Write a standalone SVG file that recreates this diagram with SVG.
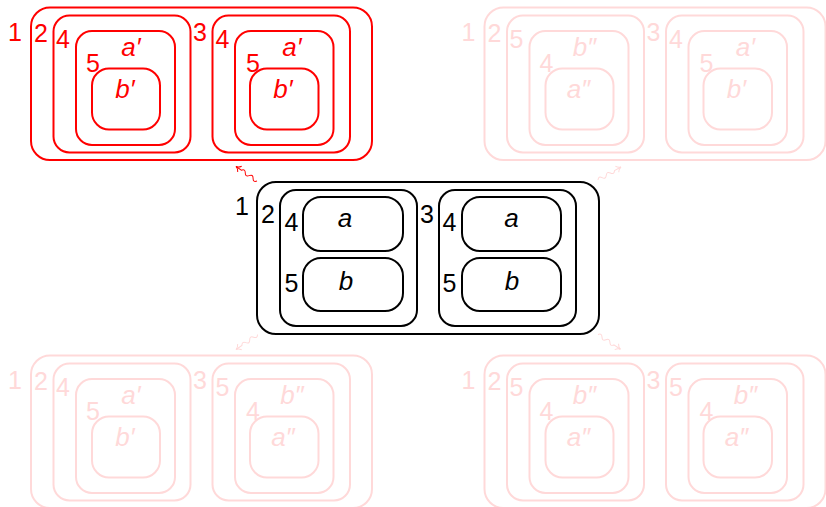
<svg xmlns="http://www.w3.org/2000/svg" width="826" height="507" viewBox="0 0 826 507">
<defs>
<style>
text{font-family:"Liberation Sans",Arial,sans-serif;font-size:25px}
.it{font-style:italic;text-anchor:middle;font-size:26px}
.r rect{fill:none;stroke:#ff0000;stroke-width:2}
.r text{fill:#ff0000}
.f rect{fill:none;stroke:#ffd9d9;stroke-width:2}
.f text{fill:#ffd9d9}
.k rect{fill:none;stroke:#000;stroke-width:2}
.k text{fill:#000}
.cr{fill:none;stroke:#ff0000;stroke-width:1}
.cf{fill:none;stroke:#ffd9d9;stroke-width:1}
</style>
<marker id="ar" viewBox="-6 -5 8 10" markerWidth="8" markerHeight="10" refX="0" refY="0" orient="auto" markerUnits="userSpaceOnUse">
<path d="M-4.5,-3.5 C-3,-1 -1.5,-0.3 0,0 C-1.5,0.3 -3,1 -4.5,3.5" fill="none" stroke="#ff0000" stroke-width="1"/>
</marker>
<marker id="af" viewBox="-6 -5 8 10" markerWidth="8" markerHeight="10" refX="0" refY="0" orient="auto" markerUnits="userSpaceOnUse">
<path d="M-4.5,-3.5 C-3,-1 -1.5,-0.3 0,0 C-1.5,0.3 -3,1 -4.5,3.5" fill="none" stroke="#ffd9d9" stroke-width="1"/>
</marker>
</defs>
<rect width="826" height="507" fill="#fff"/>

<!-- top-left (red) -->
<g id="tl" class="r">
<rect x="31" y="7.5" width="341" height="152.5" rx="19"/>
<text x="8" y="40.5">1</text>
<g id="tl-2">
<rect x="53.5" y="15.5" width="137" height="137" rx="16"/>
<text x="34" y="42">2</text>
<g id="tl-2-4">
<rect x="76" y="31" width="99" height="114" rx="16"/>
<text x="56" y="47.5">4</text>
<text class="it" x="131" y="56">a′</text>
<g id="tl-2-5">
<rect x="92" y="68.5" width="68" height="61" rx="17"/>
<text x="86" y="72">5</text>
<text class="it" x="125" y="98">b′</text>
</g>
</g>
</g>
<g id="tl-3">
<rect x="212.5" y="15.5" width="137.5" height="137" rx="16"/>
<text x="193" y="41">3</text>
<g id="tl-3-4">
<rect x="235" y="31" width="98.5" height="114" rx="16"/>
<text x="215.5" y="47.5">4</text>
<text class="it" x="292" y="56">a′</text>
<g id="tl-3-5">
<rect x="250" y="68.5" width="68.5" height="61" rx="17"/>
<text x="246" y="72">5</text>
<text class="it" x="283" y="98">b′</text>
</g>
</g>
</g>
</g>

<!-- top-right (faded) -->
<g id="tr" class="f" transform="translate(453.5,0)">
<rect x="31" y="7.5" width="341" height="152.5" rx="19"/>
<text x="8" y="40.5">1</text>
<g id="tr-2">
<rect x="53.5" y="15.5" width="137" height="137" rx="16"/>
<text x="34" y="42">2</text>
<g id="tr-2-5">
<rect x="76" y="31" width="99" height="114" rx="16"/>
<text x="56" y="47.5">5</text>
<text class="it" x="131" y="56">b″</text>
<g id="tr-2-4">
<rect x="92" y="68.5" width="68" height="61" rx="17"/>
<text x="86" y="72">4</text>
<text class="it" x="125" y="98">a″</text>
</g>
</g>
</g>
<g id="tr-3">
<rect x="212.5" y="15.5" width="137.5" height="137" rx="16"/>
<text x="193" y="41">3</text>
<g id="tr-3-4">
<rect x="235" y="31" width="98.5" height="114" rx="16"/>
<text x="215.5" y="47.5">4</text>
<text class="it" x="292" y="56">a′</text>
<g id="tr-3-5">
<rect x="250" y="68.5" width="68.5" height="61" rx="17"/>
<text x="246" y="72">5</text>
<text class="it" x="283" y="98">b′</text>
</g>
</g>
</g>
</g>

<!-- bottom-left (faded) -->
<g id="bl" class="f" transform="translate(0,348)">
<rect x="31" y="7.5" width="341" height="152.5" rx="19"/>
<text x="8" y="40.5">1</text>
<g id="bl-2">
<rect x="53.5" y="15.5" width="137" height="137" rx="16"/>
<text x="34" y="42">2</text>
<g id="bl-2-4">
<rect x="76" y="31" width="99" height="114" rx="16"/>
<text x="56" y="47.5">4</text>
<text class="it" x="131" y="56">a′</text>
<g id="bl-2-5">
<rect x="92" y="68.5" width="68" height="61" rx="17"/>
<text x="86" y="72">5</text>
<text class="it" x="125" y="98">b′</text>
</g>
</g>
</g>
<g id="bl-3">
<rect x="212.5" y="15.5" width="137.5" height="137" rx="16"/>
<text x="193" y="41">3</text>
<g id="bl-3-5">
<rect x="235" y="31" width="98.5" height="114" rx="16"/>
<text x="215.5" y="47.5">5</text>
<text class="it" x="292" y="56">b″</text>
<g id="bl-3-4">
<rect x="250" y="68.5" width="68.5" height="61" rx="17"/>
<text x="246" y="72">4</text>
<text class="it" x="283" y="98">a″</text>
</g>
</g>
</g>
</g>

<!-- bottom-right (faded) -->
<g id="br" class="f" transform="translate(453.5,348)">
<rect x="31" y="7.5" width="341" height="152.5" rx="19"/>
<text x="8" y="40.5">1</text>
<g id="br-2">
<rect x="53.5" y="15.5" width="137" height="137" rx="16"/>
<text x="34" y="42">2</text>
<g id="br-2-5">
<rect x="76" y="31" width="99" height="114" rx="16"/>
<text x="56" y="47.5">5</text>
<text class="it" x="131" y="56">b″</text>
<g id="br-2-4">
<rect x="92" y="68.5" width="68" height="61" rx="17"/>
<text x="86" y="72">4</text>
<text class="it" x="125" y="98">a″</text>
</g>
</g>
</g>
<g id="br-3">
<rect x="212.5" y="15.5" width="137.5" height="137" rx="16"/>
<text x="193" y="41">3</text>
<g id="br-3-5">
<rect x="235" y="31" width="98.5" height="114" rx="16"/>
<text x="215.5" y="47.5">5</text>
<text class="it" x="292" y="56">b″</text>
<g id="br-3-4">
<rect x="250" y="68.5" width="68.5" height="61" rx="17"/>
<text x="246" y="72">4</text>
<text class="it" x="283" y="98">a″</text>
</g>
</g>
</g>
</g>

<!-- center (black) -->
<g id="c" class="k">
<rect x="257" y="182" width="342" height="152" rx="19"/>
<text x="235" y="215">1</text>
<g id="c-2">
<rect x="280" y="190" width="137" height="136" rx="16"/>
<text x="261" y="223">2</text>
<g id="c-2-4">
<rect x="303" y="197" width="100" height="54" rx="18"/>
<text x="284.5" y="231">4</text>
<text class="it" x="345" y="227">a</text>
</g>
<g id="c-2-5">
<rect x="303" y="258" width="100" height="53" rx="18"/>
<text x="284.5" y="291.5">5</text>
<text class="it" x="346" y="290">b</text>
</g>
</g>
<g id="c-3">
<rect x="439" y="190" width="137" height="136" rx="16"/>
<text x="420" y="223">3</text>
<g id="c-3-4">
<rect x="462" y="197" width="99" height="54" rx="18"/>
<text x="442.5" y="231">4</text>
<text class="it" x="511.5" y="227">a</text>
</g>
<g id="c-3-5">
<rect x="462" y="258" width="99" height="53" rx="18"/>
<text x="442.5" y="291.5">5</text>
<text class="it" x="512" y="290">b</text>
</g>
</g>
</g>

<!-- connectors -->
<g id="connectors">
<path class="cr" transform="translate(257,181) rotate(214.6)" d="M0 0 Q2.4 -3.5 4.75 0 T9.5 0 T14.25 0 T19 0 L25.5 0" marker-end="url(#ar)"/>
<path class="cf" transform="translate(598,180) rotate(-29.5)" d="M0 0 Q2.4 -3.5 4.75 0 T9.5 0 T14.25 0 T19 0 L26.4 0" marker-end="url(#af)"/>
<path class="cf" transform="translate(257.5,334.5) rotate(145.1)" d="M0 0 Q2.4 -3.5 4.75 0 T9.5 0 T14.25 0 T19 0 L26.2 0" marker-end="url(#af)"/>
<path class="cf" transform="translate(598,334.5) rotate(33.3)" d="M0 0 Q2.4 -3.5 4.75 0 T9.5 0 T14.25 0 T19 0 L26.8 0" marker-end="url(#af)"/>
</g>
</svg>
